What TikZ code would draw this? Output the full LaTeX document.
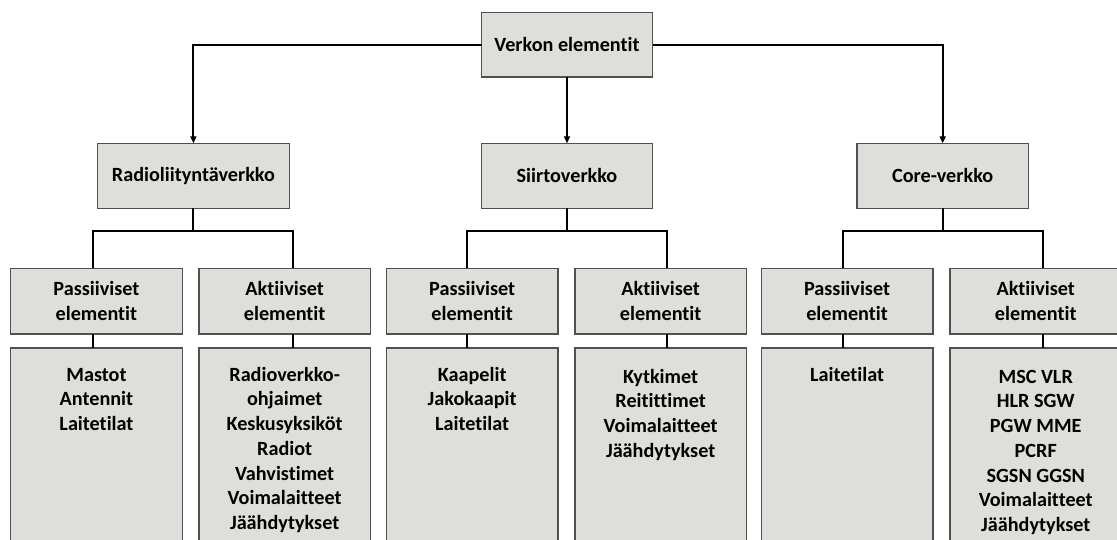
\documentclass[tikz,border=0pt]{standalone}
\usepackage{fontspec}
\setmainfont{Carlito}[Ligatures=NoCommon]
\usetikzlibrary{arrows.meta}
\usetikzlibrary{calc}
\definecolor{boxfill}{RGB}{222,222,218}
\definecolor{boxline}{RGB}{80,80,80}

\begin{document}
\begin{tikzpicture}[x=1pt,y=-1pt,
  box/.style={draw=boxline,fill=boxfill,line width=1.4pt,inner sep=0pt,outer sep=0pt,align=center,anchor=north west,font=\fontsize{20.2}{24.7}\selectfont\bfseries},
  list/.style={inner sep=0pt,anchor=north,align=center,font=\fontsize{20.2}{24.7}\selectfont\bfseries},
  link/.style={line width=2pt},
  arr/.style={line width=2pt,-{Triangle[length=7pt,width=6pt]}}]
\useasboundingbox (0,0) rectangle (1117,540);

% taso 1 ja 2
\node[box,minimum width=171pt,minimum height=64.5pt] (elem) at (481.5,12.5) {Verkon elementit};
\node[box,minimum width=191.8pt,minimum height=65pt] (radio) at (97.5,143.3) {Radioliityntäverkko};
\node[box,minimum width=171pt,minimum height=65pt] (siirto) at (481.5,143.3) {Siirtoverkko};
\node[box,minimum width=171.4pt,minimum height=65pt] (core) at (857,143.3) {Core-verkko};

% taso 3
\node[box,minimum width=171.5pt,minimum height=65.7pt] (rpas) at (10.7,268.3) {Passiiviset\\elementit};
\node[box,minimum width=171.5pt,minimum height=65.7pt] (rakt) at (198.9,268.3) {Aktiiviset\\elementit};
\node[box,minimum width=171.5pt,minimum height=65.7pt] (spas) at (386.4,268.3) {Passiiviset\\elementit};
\node[box,minimum width=171.5pt,minimum height=65.7pt] (sakt) at (574.9,268.3) {Aktiiviset\\elementit};
\node[box,minimum width=171.5pt,minimum height=65.7pt] (cpas) at (761.3,268.3) {Passiiviset\\elementit};
\node[box,minimum width=171.5pt,minimum height=65.7pt] (cakt) at (950,268.3) {Aktiiviset\\elementit};

% taso 4
\node[box,minimum width=171.5pt,minimum height=220pt] (rpasb) at (10.7,348) {};
\node[box,minimum width=171.5pt,minimum height=220pt] (raktb) at (198.9,348) {};
\node[box,minimum width=171.5pt,minimum height=220pt] (spasb) at (386.4,348) {};
\node[box,minimum width=171.5pt,minimum height=220pt] (saktb) at (574.9,348) {};
\node[box,minimum width=171.5pt,minimum height=220pt] (cpasb) at (761.3,348) {};
\node[box,minimum width=171.5pt,minimum height=220pt] (caktb) at (950,348) {};

\node[list] (rpasl) at ([yshift=-16pt]rpasb.north) {\rule{0pt}{17pt}Mastot\\Antennit\\Laitetilat};
\node[list] (raktl) at ([yshift=-16pt]raktb.north) {\rule{0pt}{17pt}Radioverkko-\\ohjaimet\\Keskusyksiköt\\Radiot\\Vahvistimet\\Voimalaitteet\\Jäähdytykset};
\node[list] (spasl) at ([yshift=-16pt]spasb.north) {\rule{0pt}{17pt}Kaapelit\\Jakokaapit\\Laitetilat};
\node[list] (saktl) at ([yshift=-18pt]saktb.north) {\rule{0pt}{17pt}Kytkimet\\Reitittimet\\Voimalaitteet\\Jäähdytykset};
\node[list] (cpasl) at ([yshift=-16pt]cpasb.north) {\rule{0pt}{17pt}Laitetilat};
\node[list] (caktl) at ([yshift=-18pt]caktb.north) {\rule{0pt}{17pt}MSC VLR\\HLR SGW\\PGW MME\\PCRF\\SGSN GGSN\\Voimalaitteet\\Jäähdytykset};

% nuolet
\draw[arr] (elem.west) -| (radio.north);
\draw[arr] (elem.south) -- (siirto.north);
\draw[arr] (elem.east) -| (core.north);

% haarat
\coordinate (rl) at ($(radio.south)+(-100,23)$);
\coordinate (rr) at ($(radio.south)+(100,23)$);
\coordinate (sl) at ($(siirto.south)+(-100,23)$);
\coordinate (sr) at ($(siirto.south)+(100,23)$);
\coordinate (cl) at ($(core.south)+(-100,23)$);
\coordinate (cr) at ($(core.south)+(100,23)$);

\draw[link] (radio.south) -- ++(0,23);
\draw[link] (rpas.north -| rl) -- (rl) -- (rr) -- (rakt.north -| rr);
\draw[link] (siirto.south) -- ++(0,23);
\draw[link] (spas.north -| sl) -- (sl) -- (sr) -- (sakt.north -| sr);
\draw[link] (core.south) -- ++(0,23);
\draw[link] (cpas.north -| cl) -- (cl) -- (cr) -- (cakt.north -| cr);

\draw[link] (rpas.south -| rl) -- (rpasb.north -| rl);
\draw[link] (rakt.south -| rr) -- (raktb.north -| rr);
\draw[link] (spas.south -| sl) -- (spasb.north -| sl);
\draw[link] (sakt.south -| sr) -- (saktb.north -| sr);
\draw[link] (cpas.south -| cl) -- (cpasb.north -| cl);
\draw[link] (cakt.south -| cr) -- (caktb.north -| cr);

\end{tikzpicture}
\end{document}
